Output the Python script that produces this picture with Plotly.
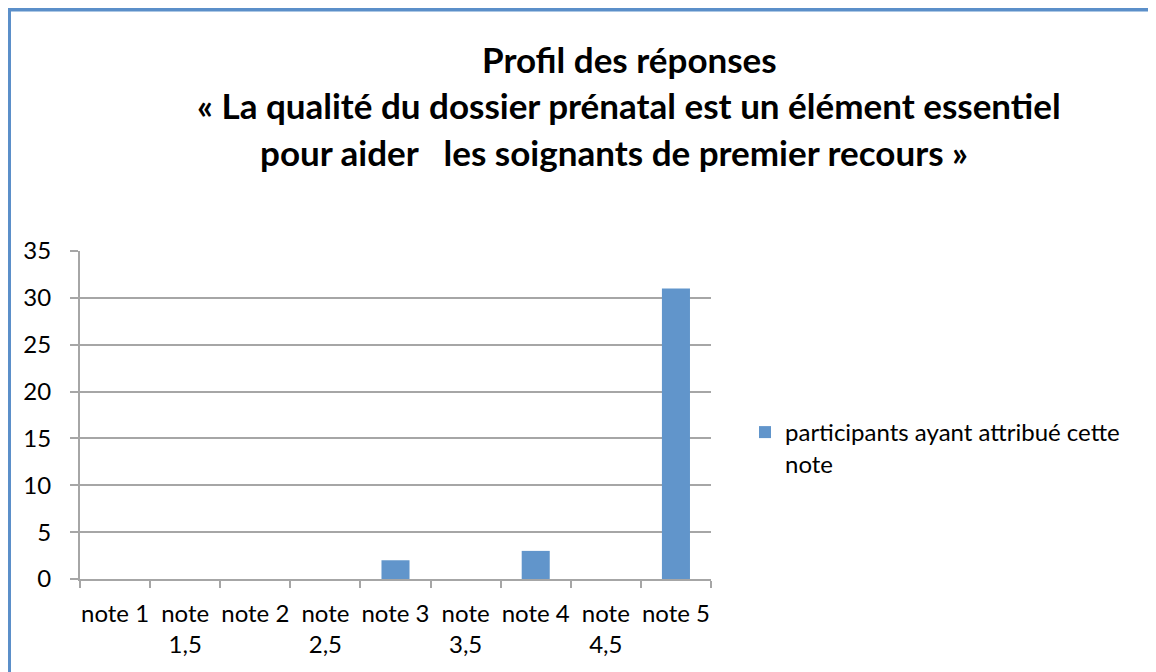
import plotly.graph_objects as go

categories = ["note 1", "note 1,5", "note 2", "note 2,5", "note 3",
              "note 3,5", "note 4", "note 4,5", "note 5"]
tick_labels = ["note 1", "note<br>1,5", "note 2", "note<br>2,5", "note 3",
               "note<br>3,5", "note 4", "note<br>4,5", "note 5"]
participants = [0, 0, 0, 0, 2, 0, 3, 0, 31]
series_name = "participants ayant attribué cette<br>note"
title_lines = ["Profil des réponses",
               "« La qualité du dossier prénatal est un élément essentiel",
               "pour aider   les soignants de premier recours »"]
y_ticks = [0, 5, 10, 15, 20, 25, 30, 35]

FONT = "Lato"
BLUE = "#6195CB"
GRID = "#A6A6A6"

W, H = 1156, 672
OFF = 8  # page body margin
# target plot area in screen pixels
L, R, T, B = 80, 711, 251, 579

fig = go.Figure()
fig.add_trace(go.Bar(x=categories, y=participants, name=series_name,
                     marker=dict(color=BLUE, line=dict(width=0)),
                     showlegend=True))

def px_x(p):
    return (p - L) / (R - L)

def px_y(p):
    return (B - p) / (B - T)

annotations = []
title_pos = [(629, 59), (629, 105), (614, 152)]
for text, (cx, cy) in zip(title_lines, title_pos):
    annotations.append(dict(text="<b>" + text + "</b>", xref="paper", yref="paper",
                            x=px_x(cx), y=px_y(cy), xanchor="center", yanchor="middle",
                            showarrow=False,
                            font=dict(family=FONT, size=35, color="#000000")))

fig.update_layout(
    width=W, height=H,
    margin=dict(l=L - OFF, r=W - R + OFF, t=T - OFF, b=H - B + OFF, pad=0),
    paper_bgcolor="white", plot_bgcolor="white",
    font=dict(family=FONT, size=24, color="#000000"),
    bargap=0.6,
    annotations=annotations,
    legend=dict(x=px_x(745), y=px_y(410), xanchor="left", yanchor="top",
                valign="top", bgcolor="rgba(0,0,0,0)",
                font=dict(family=FONT, size=24, color="#000000")),
    shapes=[dict(type="rect", xref="paper", yref="paper",
                 x0=px_x(9), x1=px_x(1180), y0=px_y(700), y1=px_y(9.5),
                 line=dict(color="#5B8FC9", width=4), fillcolor="rgba(0,0,0,0)",
                 layer="above")],
)
fig.update_xaxes(type="category", categoryorder="array", categoryarray=categories,
                 tickmode="array", tickvals=categories, ticktext=tick_labels,
                 tickson="boundaries", ticks="outside", ticklen=7, tickcolor=GRID,
                 tickwidth=2, showline=True, linecolor=GRID, linewidth=2,
                 showgrid=False, ticklabelstandoff=12, tickangle=0,
                 tickfont=dict(family=FONT, size=24, color="#000000"))
fig.update_yaxes(range=[0, 35], tickmode="array", tickvals=y_ticks,
                 ticks="outside", ticklen=8, tickcolor=GRID, tickwidth=2,
                 showline=True, linecolor=GRID, linewidth=2,
                 showgrid=True, gridcolor=GRID, gridwidth=2, zeroline=False,
                 ticklabelstandoff=14,
                 tickfont=dict(family=FONT, size=24, color="#000000"))

fig.write_html("out.html")
